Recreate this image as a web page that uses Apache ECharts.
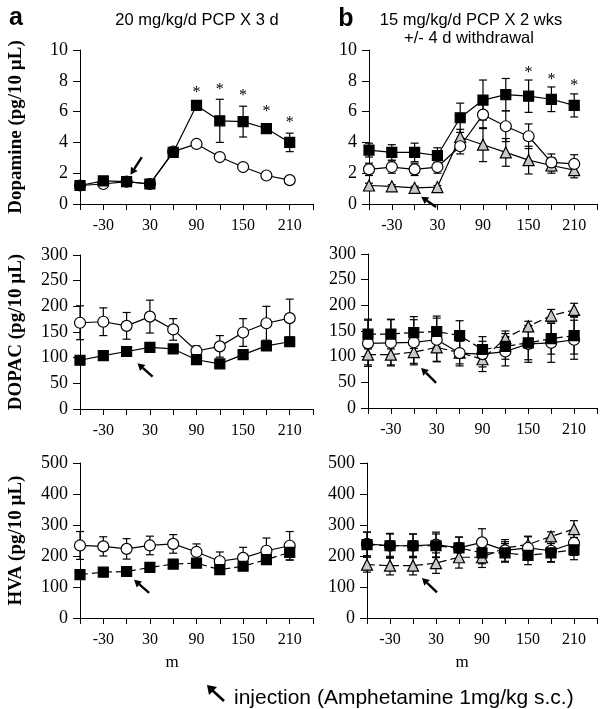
<!DOCTYPE html>
<html><head><meta charset="utf-8">
<script src="https://cdn.jsdelivr.net/npm/echarts@6/dist/echarts.min.js"></script>
<style>html,body{margin:0;padding:0;background:#fff}#c{width:600px;height:709px}</style>
</head><body><div id="c"></div><script>
// ---------- data ----------
const times = [-60, -30, 0, 30, 60, 90, 120, 150, 180, 210];
const xTickLabels = [-30, 30, 90, 150, 210];

// Dopamine, panel a
const daA_pcp = [1.2, 1.5, 1.45, 1.3, 3.35, 6.4, 5.4, 5.35, 4.9, 4.0];
const daA_pcpErr = [0.15, 0.15, 0.1, 0.1, 0.2, 0.2, 1.4, 1.0, 0.3, 0.6];
const daA_ctl = [1.2, 1.3, 1.45, 1.3, 3.4, 3.9, 3.05, 2.4, 1.85, 1.55];
const daA_ctlErr = [0.1, 0.1, 0.1, 0.1, 0.1, 0.15, 0.1, 0.1, 0.1, 0.1];
const starA_x = [90, 120, 150, 180, 210];
const starA_y = [7.5, 7.65, 7.3, 6.25, 5.55];

// Dopamine, panel b
const daB_pcp = [3.5, 3.35, 3.35, 3.15, 5.6, 6.75, 7.1, 7.0, 6.8, 6.4];
const daB_pcpErr = [0.45, 0.5, 0.6, 0.5, 0.95, 1.3, 1.05, 1.05, 0.8, 0.75];
const daB_ctl = [2.25, 2.4, 2.25, 2.4, 3.75, 5.8, 5.05, 4.4, 2.7, 2.6];
const daB_ctlErr = [0.4, 0.4, 0.4, 0.4, 0.5, 0.9, 1.0, 0.8, 0.55, 0.6];
const daB_wd = [1.2, 1.15, 1.05, 1.1, 4.35, 3.85, 3.35, 2.85, 2.5, 2.2];
const daB_wdErr = [0.15, 0.1, 0.1, 0.1, 0.5, 1.1, 0.9, 0.9, 0.5, 0.5];
const starB_x = [150, 180, 210];
const starB_y = [8.8, 8.3, 7.95];

// DOPAC, panel a
const dopA_ctl = [168, 170, 162, 180, 155, 113, 122, 149, 167, 177];
const dopA_ctlErr = [33, 27, 26, 32, 21, 10, 21, 27, 33, 37];
const dopA_pcp = [95, 104, 112, 120, 117, 96, 88, 106, 123, 131];
const dopA_pcpErr = [5, 5, 5, 5, 5, 6, 6, 6, 8, 8];

// DOPAC, panel b
const dopB_pcp = [144, 144, 147, 149, 141, 114, 120, 127, 135, 141];
const dopB_pcpErr = [29, 29, 31, 30, 29, 25, 25, 33, 30, 36];
const dopB_ctl = [126, 127, 128, 133, 107, 105, 110, 125, 127, 133];
const dopB_ctlErr = [45, 45, 44, 42, 25, 25, 28, 36, 38, 38];
const dopB_wd = [104, 104, 109, 118, 108, 95, 136, 159, 180, 191];
const dopB_wdErr = [20, 20, 22, 28, 22, 24, 14, 10, 12, 13];

// HVA, panel a
const hvaA_ctl = [234, 231, 223, 234, 239, 213, 183, 194, 217, 233];
const hvaA_ctlErr = [45, 31, 33, 30, 30, 26, 30, 34, 41, 46];
const hvaA_pcp = [140, 148, 150, 163, 174, 177, 156, 167, 188, 212];
const hvaA_pcpErr = [8, 6, 6, 6, 8, 8, 8, 8, 10, 25];

// HVA, panel b
const hvaB_pcp = [237, 233, 233, 233, 226, 210, 210, 202, 210, 220];
const hvaB_pcpErr = [40, 38, 38, 38, 35, 35, 30, 30, 30, 32];
const hvaB_ctl = [239, 233, 233, 237, 226, 244, 218, 226, 217, 242];
const hvaB_ctlErr = [38, 40, 38, 40, 35, 44, 35, 38, 35, 40];
const hvaB_wd = [172, 169, 169, 177, 196, 196, 226, 237, 263, 287];
const hvaB_wdErr = [24, 30, 30, 33, 35, 33, 20, 25, 15, 27];

// injection arrows [x1, y1, x2(head), y2(head)] per panel
const arrowDA_A = [19.6, 3.05, 5, 1.9];
const arrowDA_B = [28.3, -0.2, 8.7, 0.47];
const arrowDOP_A = [33.5, 63, 14, 89];
const arrowDOP_B = [29.2, 49, 9.6, 78];
const arrowHVA_A = [29, 81, 9.6, 123];
const arrowHVA_B = [31.3, 83, 11.7, 129];

// ---------- styling / helpers ----------
const SERIF = '"Liberation Serif", "DejaVu Serif", serif';
const SANS = '"Liberation Sans", Arial, sans-serif';

const grids = [
  { left: 80, top: 50, width: 233, height: 154 },
  { left: 369, top: 50, width: 229, height: 154 },
  { left: 80, top: 255, width: 233, height: 154 },
  { left: 368, top: 254, width: 229, height: 154 },
  { left: 80, top: 463, width: 233, height: 155 },
  { left: 367, top: 463, width: 230, height: 155 }
];
const yConf = [
  { max: 10, interval: 2, name: 'Dopamine (pg/10 µL)' },
  { max: 10, interval: 2, name: '' },
  { max: 300, interval: 50, name: 'DOPAC (pg/10 µL)' },
  { max: 300, interval: 50, name: '' },
  { max: 500, interval: 100, name: 'HVA (pg/10 µL)' },
  { max: 500, interval: 100, name: '' }
];

const xAxes = grids.map((g, i) => ({
  type: 'value', gridIndex: i, min: -60, max: 240, interval: 30,
  axisLine: { show: true, onZero: false, lineStyle: { color: '#000', width: 1 } },
  axisTick: { show: true, inside: false, length: 6, lineStyle: { color: '#000' } },
  splitLine: { show: false },
  axisLabel: {
    margin: 14, color: '#000', fontFamily: SERIF, fontSize: 16,
    formatter: v => (xTickLabels.indexOf(v) >= 0 ? String(v) : '')
  }
}));
const yAxes = grids.map((g, i) => ({
  type: 'value', gridIndex: i, min: 0, max: yConf[i].max, interval: yConf[i].interval,
  name: yConf[i].name, nameLocation: 'middle', nameGap: 54,
  nameTextStyle: { fontFamily: SERIF, fontWeight: 'bold', fontSize: 19, color: '#000' },
  axisLine: { show: true, onZero: false, lineStyle: { color: '#000', width: 1 } },
  axisTick: { show: true, inside: false, length: 7, lineStyle: { color: '#000' } },
  splitLine: { show: false },
  axisLabel: { margin: 12, color: '#000', fontFamily: SERIF, fontSize: 18 }
}));

function lineS(gi, vals, kind, dashed) {
  const conf = {
    square: { symbol: 'rect', size: 10, fill: '#000' },
    circle: { symbol: 'circle', size: 11, fill: '#fff' },
    triangle: { symbol: 'triangle', size: 11, fill: '#c8c8c8' }
  }[kind];
  return {
    type: 'line', xAxisIndex: gi, yAxisIndex: gi,
    data: times.map((t, i) => [t, vals[i]]),
    symbol: conf.symbol, symbolSize: conf.size, showSymbol: true,
    itemStyle: { color: conf.fill, borderColor: '#000', borderWidth: 1.2 },
    lineStyle: { color: '#000', width: 1.2, type: dashed ? [8, 4] : 'solid' },
    z: 4, silent: true, animation: false, emphasis: { disabled: true }
  };
}
function errS(gi, vals, errs) {
  return {
    type: 'custom', xAxisIndex: gi, yAxisIndex: gi,
    data: times.map((t, i) => [t, vals[i] - errs[i], vals[i] + errs[i]]),
    encode: { x: 0, y: [1, 2] },
    renderItem: (p, api) => {
      const x = api.value(0);
      const a = api.coord([x, api.value(1)]);
      const b = api.coord([x, api.value(2)]);
      const w = 4, st = { stroke: '#000', lineWidth: 1.2 };
      return {
        type: 'group', children: [
          { type: 'line', shape: { x1: a[0], y1: a[1], x2: b[0], y2: b[1] }, style: st },
          { type: 'line', shape: { x1: a[0] - w, y1: a[1], x2: a[0] + w, y2: a[1] }, style: st },
          { type: 'line', shape: { x1: b[0] - w, y1: b[1], x2: b[0] + w, y2: b[1] }, style: st }
        ]
      };
    },
    z: 2, silent: true, animation: false, clip: false
  };
}
function starS(gi, xs, ys) {
  return {
    type: 'custom', xAxisIndex: gi, yAxisIndex: gi,
    data: xs.map((x, i) => [x, ys[i]]),
    renderItem: (p, api) => {
      const c = api.coord([api.value(0), api.value(1)]);
      return { type: 'text', style: { text: '*', x: c[0], y: c[1] + 4, align: 'center', verticalAlign: 'middle', font: '16px ' + SERIF, fill: '#000' } };
    },
    z: 5, silent: true, animation: false
  };
}
function arrowS(gi, arr) {
  return {
    type: 'custom', xAxisIndex: gi, yAxisIndex: gi,
    data: [arr], encode: { x: [0, 2], y: [1, 3] },
    renderItem: (p, api) => {
      const p1 = api.coord([api.value(0), api.value(1)]);
      const p2 = api.coord([api.value(2), api.value(3)]);
      const dx = p2[0] - p1[0], dy = p2[1] - p1[1];
      const L = Math.sqrt(dx * dx + dy * dy), ux = dx / L, uy = dy / L;
      const hl = 7, hw = 4;
      const bx = p2[0] - ux * hl, by = p2[1] - uy * hl;
      return {
        type: 'group', children: [
          { type: 'line', shape: { x1: p1[0], y1: p1[1], x2: bx, y2: by }, style: { stroke: '#000', lineWidth: 2.4 } },
          { type: 'polygon', shape: { points: [[p2[0], p2[1]], [bx - uy * hw, by + ux * hw], [bx + uy * hw, by - ux * hw]] }, style: { fill: '#000' } }
        ]
      };
    },
    z: 6, silent: true, animation: false, clip: false
  };
}

const series = [
  // DA a
  errS(0, daA_ctl, daA_ctlErr), errS(0, daA_pcp, daA_pcpErr),
  lineS(0, daA_ctl, 'circle', false), lineS(0, daA_pcp, 'square', false),
  starS(0, starA_x, starA_y), arrowS(0, arrowDA_A),
  // DA b
  errS(1, daB_wd, daB_wdErr), errS(1, daB_ctl, daB_ctlErr), errS(1, daB_pcp, daB_pcpErr),
  lineS(1, daB_wd, 'triangle', false), lineS(1, daB_ctl, 'circle', false), lineS(1, daB_pcp, 'square', false),
  starS(1, starB_x, starB_y), arrowS(1, arrowDA_B),
  // DOPAC a
  errS(2, dopA_ctl, dopA_ctlErr), errS(2, dopA_pcp, dopA_pcpErr),
  lineS(2, dopA_ctl, 'circle', false), lineS(2, dopA_pcp, 'square', false),
  arrowS(2, arrowDOP_A),
  // DOPAC b
  errS(3, dopB_wd, dopB_wdErr), errS(3, dopB_ctl, dopB_ctlErr), errS(3, dopB_pcp, dopB_pcpErr),
  lineS(3, dopB_wd, 'triangle', true), lineS(3, dopB_ctl, 'circle', false), lineS(3, dopB_pcp, 'square', true),
  arrowS(3, arrowDOP_B),
  // HVA a
  errS(4, hvaA_ctl, hvaA_ctlErr), errS(4, hvaA_pcp, hvaA_pcpErr),
  lineS(4, hvaA_ctl, 'circle', false), lineS(4, hvaA_pcp, 'square', true),
  arrowS(4, arrowHVA_A),
  // HVA b
  errS(5, hvaB_wd, hvaB_wdErr), errS(5, hvaB_ctl, hvaB_ctlErr), errS(5, hvaB_pcp, hvaB_pcpErr),
  lineS(5, hvaB_wd, 'triangle', true), lineS(5, hvaB_ctl, 'circle', false), lineS(5, hvaB_pcp, 'square', true),
  arrowS(5, arrowHVA_B)
];

const graphic = [
  { type: 'text', left: 9, top: 6, style: { text: 'a', font: 'bold 25px ' + SANS, fill: '#000' } },
  { type: 'text', x: 197, y: 20, style: { text: '20 mg/kg/d PCP X 3 d', font: '16.5px ' + SANS, fill: '#000', align: 'center', verticalAlign: 'middle' } },
  { type: 'text', x: 346, y: 19, style: { text: 'b', font: 'bold 25px ' + SANS, fill: '#000', align: 'center', verticalAlign: 'middle' } },
  { type: 'text', x: 471, y: 20, style: { text: '15 mg/kg/d PCP X 2 wks', font: '16.5px ' + SANS, fill: '#000', align: 'center', verticalAlign: 'middle' } },
  { type: 'text', x: 469, y: 38, style: { text: '+/- 4 d withdrawal', font: '16.5px ' + SANS, fill: '#000', align: 'center', verticalAlign: 'middle' } },
  { type: 'text', x: 172, y: 663, style: { text: 'm', font: '17px ' + SERIF, fill: '#000', align: 'center', verticalAlign: 'middle' } },
  { type: 'text', x: 462, y: 663, style: { text: 'm', font: '17px ' + SERIF, fill: '#000', align: 'center', verticalAlign: 'middle' } },
  { type: 'line', shape: { x1: 224, y1: 701, x2: 212, y2: 690 }, style: { stroke: '#000', lineWidth: 2.6 } },
  { type: 'polygon', shape: { points: [[207, 685], [217, 687], [209, 695]] }, style: { fill: '#000' } },
  { type: 'text', x: 234, y: 698, style: { text: 'injection (Amphetamine 1mg/kg s.c.)', font: '21px ' + SANS, fill: '#000', align: 'left', verticalAlign: 'middle' } }
];

const chart = echarts.init(document.getElementById('c'), null, { renderer: 'canvas' });
chart.setOption({
  animation: false,
  backgroundColor: '#fff',
  grid: grids.map(g => Object.assign({ containLabel: false }, g)),
  xAxis: xAxes,
  yAxis: yAxes,
  series: series,
  graphic: graphic
});
</script></body></html>
